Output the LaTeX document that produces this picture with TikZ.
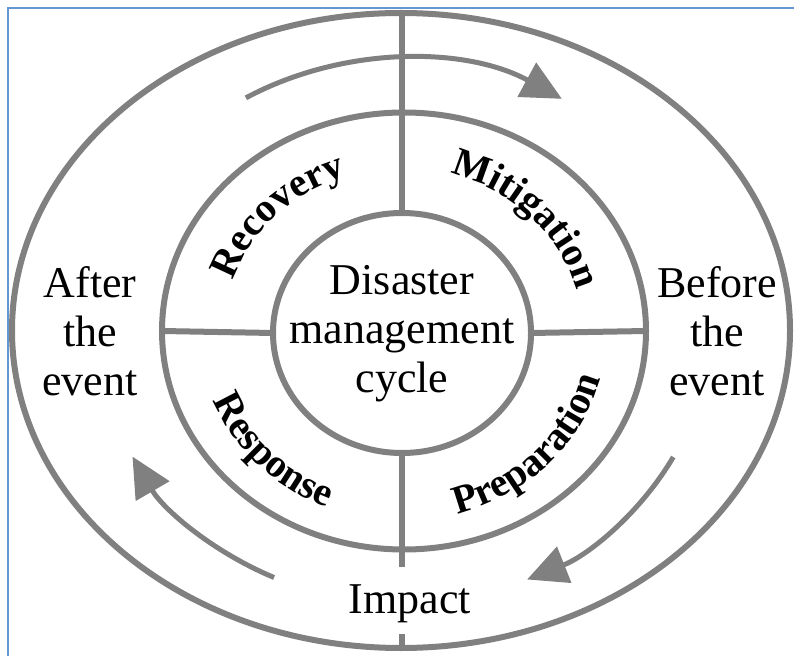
\documentclass[tikz,border=0pt]{standalone}
\usepackage{fontspec}
\setmainfont{Liberation Serif}
\usetikzlibrary{arrows.meta,shapes.geometric,decorations.text,calc}
\definecolor{ringgray}{RGB}{128,128,128}
\definecolor{frameblue}{RGB}{100,150,210}
\begin{document}
\begin{tikzpicture}[x=1pt,y=1pt,
  ring/.style={ellipse, draw=ringgray, line width=6pt, inner sep=0pt, outer sep=0pt},
  spoke/.style={draw=ringgray, line width=6pt},
  flow/.style={draw=ringgray, line width=5pt, -{Triangle[length=40pt,width=38pt]}},
  plain/.style={font=\fontsize{44}{49}\selectfont, align=center, inner sep=0pt},
  phase/.style={decorate, decoration={text along path, text align=center,
      text={|\fontsize{40}{40}\selectfont\bfseries|#1}}}
]
\useasboundingbox (0,0) rectangle (794,656);

% frame
\draw[frameblue, line width=1.5pt] (8,0) -- (8,648) -- (794,648);

% rings
\coordinate (c) at (403,325);
\node[ring, minimum width=778pt, minimum height=635pt] (outer) at (401,325.5) {};
\node[ring, minimum width=484pt, minimum height=437pt] (middle) at (404,325) {};
\node[ring, minimum width=258pt, minimum height=240pt] (inner) at (402,323) {};

% spokes
\coordinate (lowend) at ($(inner.south)+(0,-114)$);
\coordinate (impacttop) at ($(inner.south |- outer.south)+(0,14)$);
\draw[spoke] (inner.north) -- (inner.north |- outer.north);
\draw[spoke] (inner.south) -- (lowend);
\draw[spoke] (impacttop) -- (inner.south |- outer.south);
\draw[spoke] (middle.west) -- (inner.west);
\draw[spoke] (inner.east) -- (middle.east);

% flow arrows
\draw[flow] ($(c)+(121:305 and 272)$) arc[start angle=121, end angle=58.6, x radius=305, y radius=272];
\draw[flow] ($(c)+(-27.6:305 and 272)$) arc[start angle=-27.6, end angle=-66, x radius=305, y radius=272];
\draw[flow] ($(c)+(245:305 and 272)$) arc[start angle=245, end angle=207.5, x radius=305, y radius=272];

% texts
\node[plain] (core) at (402,322) {Disaster\\management\\cycle};
\node[plain] (after) at (90,325) {After\\the\\event};
\node[plain] (before) at (717,325) {Before\\the\\event};
\node[plain, anchor=base] (impact) at (410,43) {Impact};

% phase labels along the band
\path[phase=Recovery] ($(c)+(180:179 and 163)$) arc[start angle=180, end angle=92, x radius=179, y radius=163];
\path[phase=Mitigation] ($(c)+(88:179 and 163)$) arc[start angle=88, end angle=0, x radius=179, y radius=163];
\path[phase=Preparation] ($(c)+(-90:204 and 190)$) arc[start angle=-90, end angle=2, x radius=204, y radius=190];
\path[phase=Response] ($(c)+(178:204 and 190)$) arc[start angle=178, end angle=270, x radius=204, y radius=190];
\end{tikzpicture}
\end{document}
